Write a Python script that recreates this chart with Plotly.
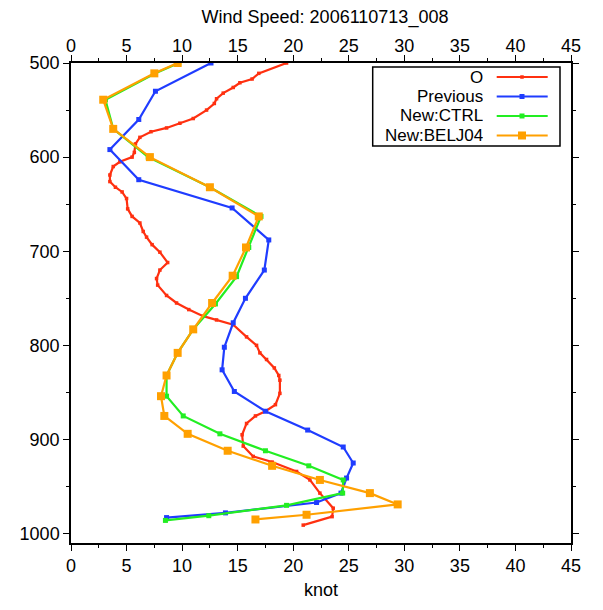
import plotly.graph_objects as go

# ---------------- data ----------------
obs_speed = [19.4, 16.9, 16.3, 15.2, 14.6, 13.7, 13.1, 12.9, 12.2, 11.0, 9.8, 8.6, 7.2, 6.2,
             5.8, 5.7, 5.5, 4.4, 3.8, 3.5, 3.5, 4.0, 4.6, 5.0, 5.1, 5.5, 6.2, 6.5, 6.8, 7.3,
             8.0, 8.7, 8.0, 7.7, 7.8, 8.6, 9.5, 10.6, 11.9, 13.1, 14.6, 15.8, 16.7, 17.0,
             17.6, 18.3, 18.7, 18.8, 18.8, 18.4, 17.5, 16.6, 15.8, 15.4, 15.5, 16.4, 18.1,
             20.3, 21.5, 22.4, 23.6, 23.5, 20.9]
obs_pres = [500, 511, 517, 521, 526, 532, 538, 543, 550, 559, 564, 569, 573, 579,
            586, 595, 600, 605, 610, 619, 626, 632, 637, 644, 655, 663, 670, 679, 685, 693,
            701, 712, 720, 729, 736, 747, 755, 762, 769, 773, 778, 791, 800, 808,
            815, 824, 832, 837, 851, 863, 870, 875, 883, 895, 907, 918, 924,
            934, 943, 957, 973, 982, 991]

prev_speed = [12.6, 7.6, 6.1, 3.5, 6.1, 14.5, 17.8, 17.4, 15.7, 14.6, 13.8, 13.6, 14.7,
              17.5, 21.3, 24.5, 25.4, 24.8, 24.3, 22.1, 13.9, 8.6]
prev_pres = [500, 530, 560, 592, 624, 654, 688, 720, 750, 776, 802, 826, 849,
             870, 890, 908, 925, 941, 957, 967, 978, 983]

ctrl_speed = [9.7, 7.6, 3.1, 3.8, 6.95, 12.5, 17.1, 16.0, 14.9, 13.0, 11.0, 9.6, 8.6,
              8.6, 10.1, 13.4, 17.5, 21.4, 24.5, 24.45, 19.4, 12.4, 8.5]
ctrl_pres = [500, 511, 539, 570, 600, 632, 663, 696, 727, 756, 783, 808, 832,
             854, 875, 894, 912, 928, 943, 957, 970, 981, 986]

belj_speed = [9.6, 7.5, 2.9, 3.8, 7.1, 12.5, 16.9, 15.75, 14.55, 12.7, 11.0, 9.6, 8.6,
              8.1, 8.4, 10.5, 14.1, 18.1, 22.4, 26.9, 29.4, 21.2, 16.6]
belj_pres = [500, 511, 539, 570, 600, 632, 663, 696, 726, 755, 783, 808, 832,
             854, 875, 894, 912, 928, 943, 957, 969, 980, 985]

x_ticks = [0, 5, 10, 15, 20, 25, 30, 35, 40, 45]
y_ticks = [500, 600, 700, 800, 900, 1000]

series_names = ["O", "Previous", "New:CTRL", "New:BELJ04"]
colors = ["#ff3010", "#1f3cff", "#22ee22", "#ffa000"]
marker_sizes = [3.5, 5, 5, 8]

FONT = "Liberation Sans, Arial, Helvetica, sans-serif"

fig = go.Figure()
all_x = [obs_speed, prev_speed, ctrl_speed, belj_speed]
all_y = [obs_pres, prev_pres, ctrl_pres, belj_pres]
for name, xs, ys, c, ms in zip(series_names, all_x, all_y, colors, marker_sizes):
    fig.add_trace(go.Scatter(
        x=xs, y=ys, name=name, mode="lines+markers",
        line=dict(color=c, width=2.2),
        marker=dict(color=c, size=ms, symbol="square"),
        showlegend=False,
    ))

# invisible trace to anchor the top axis
fig.add_trace(go.Scatter(x=[0, 45], y=[500, 500], xaxis="x2", mode="none",
                         showlegend=False, hoverinfo="skip"))

# ---------------- manual legend ----------------
leg_rows_y = [0.9708, 0.9302, 0.8896, 0.849]
fig.add_shape(type="rect", xref="paper", yref="paper",
              x0=0.6034, x1=0.978, y0=0.8271, y1=0.9917,
              line=dict(color="black", width=1.5), fillcolor="white", layer="above")
for name, c, ms, yy in zip(series_names, colors, marker_sizes, leg_rows_y):
    fig.add_annotation(text=name, xref="paper", yref="paper", x=0.826, y=yy,
                       xanchor="right", yanchor="middle", showarrow=False,
                       borderpad=0, height=17, valign="middle",
                       font=dict(size=17, color="black", family=FONT))
    fig.add_shape(type="line", xref="paper", yref="paper",
                  x0=0.8514, x1=0.9534, y0=yy, y1=yy,
                  line=dict(color=c, width=2.2), layer="above")
    half_w = ms / 2 / 500
    half_h = ms / 2 / 480
    fig.add_shape(type="rect", xref="paper", yref="paper",
                  x0=0.902 - half_w, x1=0.902 + half_w,
                  y0=yy - half_h, y1=yy + half_h,
                  line=dict(width=0), fillcolor=c, layer="above")

fig.update_layout(
    width=603, height=610,
    margin=dict(l=71, r=32, t=63, b=67),
    paper_bgcolor="white", plot_bgcolor="white",
    font=dict(family=FONT, size=18, color="black"),
    title=dict(text="Wind Speed: 2006110713_008", x=0.508, xref="paper",
               y=1 - 17 / 610, yref="container", xanchor="center", yanchor="middle",
               font=dict(size=18, family=FONT, color="black")),
    xaxis=dict(range=[0, 45], tickvals=x_ticks, ticktext=[str(v) for v in x_ticks],
               showline=True, linecolor="black", linewidth=1.5,
               ticks="outside", ticklen=6, tickcolor="black", tickwidth=1.2,
               mirror="ticks", showgrid=False, zeroline=False,
               minor=dict(dtick=2.5, ticks="outside", ticklen=3, tickcolor="black",
                          showgrid=False),
               title=dict(text="knot", font=dict(size=18, family=FONT), standoff=8)),
    xaxis2=dict(range=[0, 45], tickvals=x_ticks, ticktext=[str(v) for v in x_ticks],
                overlaying="x", side="top", showline=False, ticks="",
                showgrid=False, zeroline=False, ticklabelstandoff=6),
    yaxis=dict(range=[1010, 500], tickvals=y_ticks, ticktext=[str(v) for v in y_ticks],
               showline=True, linecolor="black", linewidth=1.5,
               ticks="outside", ticklen=6, tickcolor="black", tickwidth=1.2,
               mirror="ticks", showgrid=False, zeroline=False,
               minor=dict(dtick=50, ticks="outside", ticklen=3, tickcolor="black",
                          showgrid=False)),
)

fig.write_html("out.html")
